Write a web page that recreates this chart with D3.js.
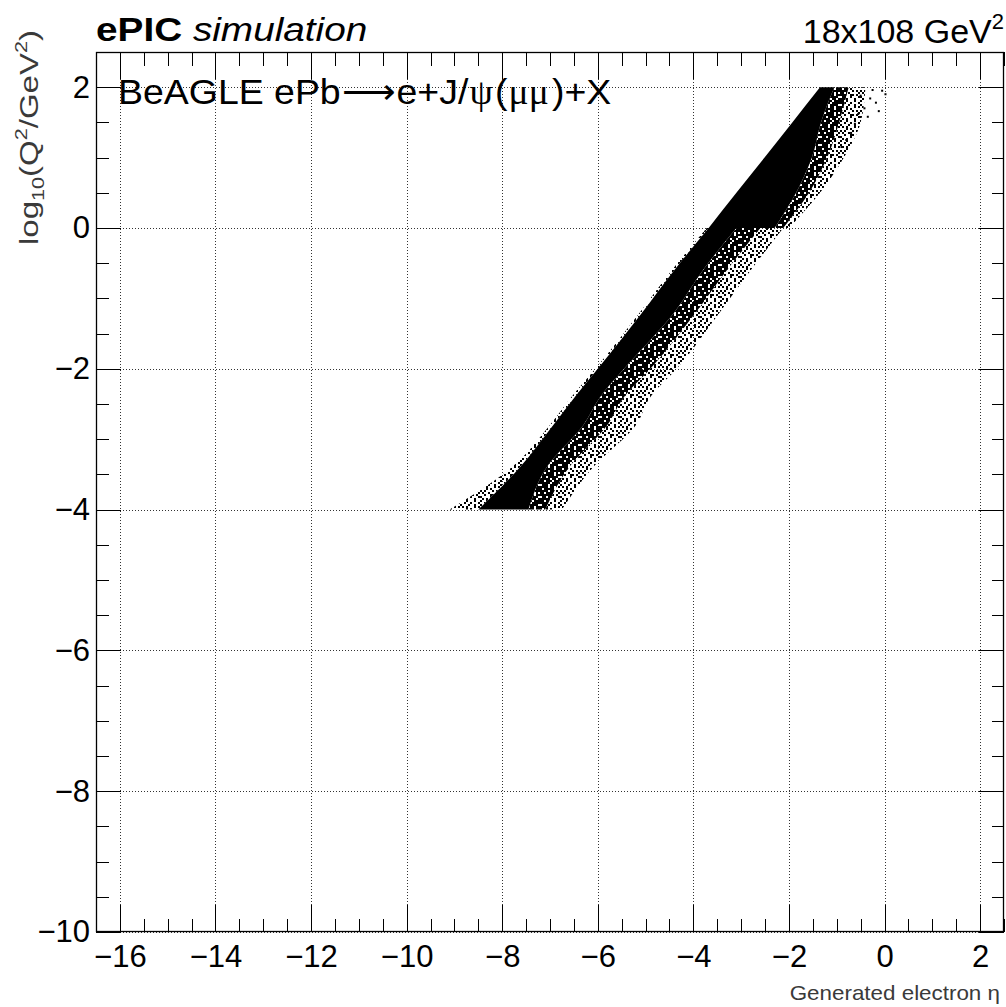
<!DOCTYPE html>
<html>
<head>
<meta charset="utf-8">
<script src="https://cdn.jsdelivr.net/npm/d3@7"></script>
<style>
  body { margin: 0; background: #fff; }
  svg { display: block; font-family: "Liberation Sans", Arial, Helvetica, sans-serif; }
</style>
</head>
<body>
<svg id="chart" width="1006" height="1007"></svg>
<script>
// Axis tick labels
const etaTicks = [-16, -14, -12, -10, -8, -6, -4, -2, 0, 2];
const q2Ticks = [-10, -8, -6, -4, -2, 0, 2];

// Event band, branch below log10(Q2) = 0: outline of the populated region per Q2 row
const lowerQ2     = [-4.0, -3.4, -2.8, -2.4, -2.0, -1.2, -0.6, 0.0];
const lowerFringe = [-9.1, -7.8, -7.0, -6.55, -6.05, -5.12, -4.45, -3.72];
const lowerEdge   = [-8.5, -7.63, -6.93, -6.48, -6.0, -5.07, -4.4, -3.68];
const lowerCore   = [-7.45, -7.07, -6.3, -5.95, -5.45, -4.4, -3.8, -3.1];
const lowerMid    = [-7.1, -6.6, -5.8, -5.45, -4.9, -3.95, -3.3, -2.6];
const lowerTail   = [-6.75, -6.1, -5.2, -4.9, -4.35, -3.45, -2.8, -2.12];

// Event band, branch above log10(Q2) = 0
const upperQ2   = [0.0, 0.5, 1.0, 1.5, 2.0];
const upperEdge = [-3.68, -3.1, -2.51, -1.93, -1.35];
const upperCore = [-2.3, -1.85, -1.52, -1.33, -1.05];
const upperMid  = [-2.12, -1.58, -1.2, -0.95, -0.75];
const upperTail = [-2.0, -1.35, -0.85, -0.5, -0.4];

// Isolated events beyond the band near the top (eta, log10 Q2)
const strayEta = [-0.05, 0.02, -0.18, -0.3, -0.42, -0.55, -0.35, -0.62, -0.5, -0.25, -0.7, -0.8, -0.12, -0.9];
const strayQ2  = [1.95, 1.90, 1.78, 1.84, 1.70, 1.62, 1.58, 1.48, 1.88, 1.96, 1.35, 1.25, 1.66, 1.15];

const svg = d3.select("#chart");
const W = 1006, H = 1007;
const frame = { left: 96, right: 1004, top: 52, bottom: 932 };

const x = d3.scaleLinear().domain([-16.5, 2.5]).range([frame.left, frame.right]);
const y = d3.scaleLinear().domain([-10, 2.5]).range([frame.bottom, frame.top]);

svg.append("rect").attr("width", W).attr("height", H).attr("fill", "#fff");

// Dot textures for the thinner parts of the band ('#' = filled 2px cell)
const defs = svg.append("defs");
function dotPattern(id, map, cell) {
  const n = map.length;
  const p = defs.append("pattern").attr("id", id)
    .attr("patternUnits", "userSpaceOnUse").attr("width", n * cell).attr("height", n * cell);
  map.forEach((row, r) => [...row].forEach((ch, c) => {
    if (ch === "#") p.append("rect").attr("x", c * cell).attr("y", r * cell)
      .attr("width", cell).attr("height", cell).attr("fill", "#000");
  }));
}
dotPattern("heavy", [
  "##.###.###",
  "#####.####",
  ".###.####.",
  "####.##.##",
  "#.#####.##",
  "####.#####",
  "##.####.#.",
  "#######.##",
  ".##.#####.",
  "#####.##.#"
], 2);
dotPattern("light", [
  "#..#...#..",
  "..#..#...#",
  "#...#..#..",
  ".#.#...#.#",
  "...#.#....",
  "#.#...#.#.",
  ".#..#....#",
  "..#..##.#.",
  "#....#...#",
  ".#.#...#.."
], 2);

const clip = defs.append("clipPath").attr("id", "plot-area");
clip.append("rect").attr("x", frame.left).attr("y", frame.top)
  .attr("width", frame.right - frame.left).attr("height", frame.bottom - frame.top);

// Dotted grid at the major ticks
const grid = svg.append("g").attr("stroke", "#333").attr("stroke-width", 1)
  .attr("stroke-dasharray", "1,2").attr("shape-rendering", "crispEdges");
grid.selectAll("line.gx").data(etaTicks).join("line").attr("class", "gx")
  .attr("x1", d => Math.round(x(d)) + 0.5).attr("x2", d => Math.round(x(d)) + 0.5)
  .attr("y1", frame.top).attr("y2", frame.bottom);
grid.selectAll("line.gy").data(q2Ticks).join("line").attr("class", "gy")
  .attr("y1", d => Math.round(y(d)) + 0.5).attr("y2", d => Math.round(y(d)) + 0.5)
  .attr("x1", frame.left).attr("x2", frame.right);

// Band regions
function rows(q, a, b) { return q.map((v, i) => ({ q: v, a: a[i], b: b[i] })); }
const band = d3.area().y(d => y(d.q)).x0(d => x(d.a)).x1(d => x(d.b)).curve(d3.curveMonotoneY);
const plot = svg.append("g").attr("clip-path", "url(#plot-area)");

const layers = [
  [lowerQ2, lowerFringe, lowerEdge, "url(#light)"],
  [lowerQ2, lowerEdge, lowerCore, "#000"],
  [lowerQ2, lowerCore, lowerMid, "url(#heavy)"],
  [lowerQ2, lowerMid, lowerTail, "url(#light)"],
  [upperQ2, upperEdge, upperCore, "#000"],
  [upperQ2, upperCore, upperMid, "url(#heavy)"],
  [upperQ2, upperMid, upperTail, "url(#light)"]
];
layers.forEach(([q, a, b, fill]) => {
  plot.append("path").datum(rows(q, a, b)).attr("d", band).attr("fill", fill);
});
plot.selectAll("rect.stray").data(strayEta.map((e, i) => [e, strayQ2[i]])).join("rect")
  .attr("class", "stray")
  .attr("x", d => x(d[0]) - 1).attr("y", d => y(d[1]) - 1)
  .attr("width", 2).attr("height", 2).attr("fill", "#000");

// Axes: ticks point inward on all four sides
const minorEta = d3.range(-16.5, 2.51, 0.5);
const minorQ2 = d3.range(-10, 2.51, 0.5);
const fmt = d3.format("");

function styleAxis(g) {
  g.select(".domain").remove();
  g.selectAll("line").attr("stroke", "#000").attr("shape-rendering", "crispEdges");
  g.selectAll("text").attr("fill", "#000").attr("font-size", 31)
    .attr("font-family", "\"Liberation Sans\", Arial, sans-serif");
}

svg.append("g").attr("transform", `translate(0,${frame.bottom})`)
  .call(d3.axisBottom(x).tickValues(minorEta).tickSize(-13.5).tickFormat(""))
  .call(styleAxis);
svg.append("g").attr("transform", `translate(0,${frame.bottom})`)
  .call(d3.axisBottom(x).tickValues(etaTicks).tickSize(-27).tickPadding(13).tickFormat(fmt))
  .call(styleAxis);
svg.append("g").attr("transform", `translate(0,${frame.top})`)
  .call(d3.axisTop(x).tickValues(minorEta).tickSize(-13.5).tickFormat(""))
  .call(styleAxis);
svg.append("g").attr("transform", `translate(0,${frame.top})`)
  .call(d3.axisTop(x).tickValues(etaTicks).tickSize(-27).tickFormat(""))
  .call(styleAxis);

svg.append("g").attr("transform", `translate(${frame.left},0)`)
  .call(d3.axisLeft(y).tickValues(minorQ2).tickSize(-12.5).tickFormat(""))
  .call(styleAxis);
svg.append("g").attr("transform", `translate(${frame.left},0)`)
  .call(d3.axisLeft(y).tickValues(q2Ticks).tickSize(-25).tickPadding(6).tickFormat(fmt))
  .call(styleAxis);
svg.append("g").attr("transform", `translate(${frame.right},0)`)
  .call(d3.axisRight(y).tickValues(minorQ2).tickSize(-12.5).tickFormat(""))
  .call(styleAxis);
svg.append("g").attr("transform", `translate(${frame.right},0)`)
  .call(d3.axisRight(y).tickValues(q2Ticks).tickSize(-25).tickFormat(""))
  .call(styleAxis);

// Frame
svg.append("rect")
  .attr("x", frame.left + 0.5).attr("y", frame.top + 0.5)
  .attr("width", frame.right - frame.left - 1).attr("height", frame.bottom - frame.top - 1)
  .attr("fill", "none").attr("stroke", "#000").attr("stroke-width", 1.3);

// Headline
const head = svg.append("text").attr("transform", "translate(96,41) scale(1.14,1)")
  .attr("font-size", 34).attr("fill", "#000");
head.append("tspan").attr("font-weight", "bold").text("ePIC");
head.append("tspan").attr("font-style", "italic").text(" simulation");

const beam = svg.append("text").attr("x", 1004).attr("y", 43).attr("font-size", 34)
  .attr("text-anchor", "end").attr("fill", "#000");
beam.append("tspan").text("18x108 GeV");
beam.append("tspan").attr("font-size", 22).attr("dy", -14).text("2");

// Process label
const proc = svg.append("text").attr("transform", "translate(118,104) scale(1.07,1)")
  .attr("font-size", 35).attr("fill", "#000");
proc.append("tspan").text("BeAGLE ePb");
proc.append("tspan").attr("font-family", "\"DejaVu Sans\", sans-serif").attr("font-weight", 200)
  .attr("dx", 1).text("\u27f6");
proc.append("tspan").attr("dx", 1).text("e+J/");
proc.append("tspan").attr("font-family", "\"Liberation Serif\", serif").attr("dx", 1).text("\u03c8");
proc.append("tspan").attr("dx", 2).text("(");
proc.append("tspan").attr("font-family", "\"Liberation Serif\", serif").attr("dx", 1).text("\u03bc\u03bc");
proc.append("tspan").attr("dx", 3).text(")+X");

// Axis titles
svg.append("text").attr("transform", "translate(1000,1000) scale(1.12,1)").attr("font-size", 20)
  .attr("text-anchor", "end").attr("fill", "#3a3a3a").text("Generated electron \u03b7");

const yt = svg.append("text").attr("transform", "translate(38,30) rotate(-90) scale(1.27,1)")
  .attr("text-anchor", "end").attr("font-size", 26).attr("fill", "#3a3a3a");
yt.append("tspan").text("log");
yt.append("tspan").attr("font-size", 17).attr("dy", 6).text("10");
yt.append("tspan").attr("dy", -6).text("(Q");
yt.append("tspan").attr("font-size", 17).attr("dy", -11).text("2");
yt.append("tspan").attr("dy", 11).text("/GeV");
yt.append("tspan").attr("font-size", 17).attr("dy", -11).text("2");
yt.append("tspan").attr("dy", 11).text(")");
</script>
</body>
</html>
